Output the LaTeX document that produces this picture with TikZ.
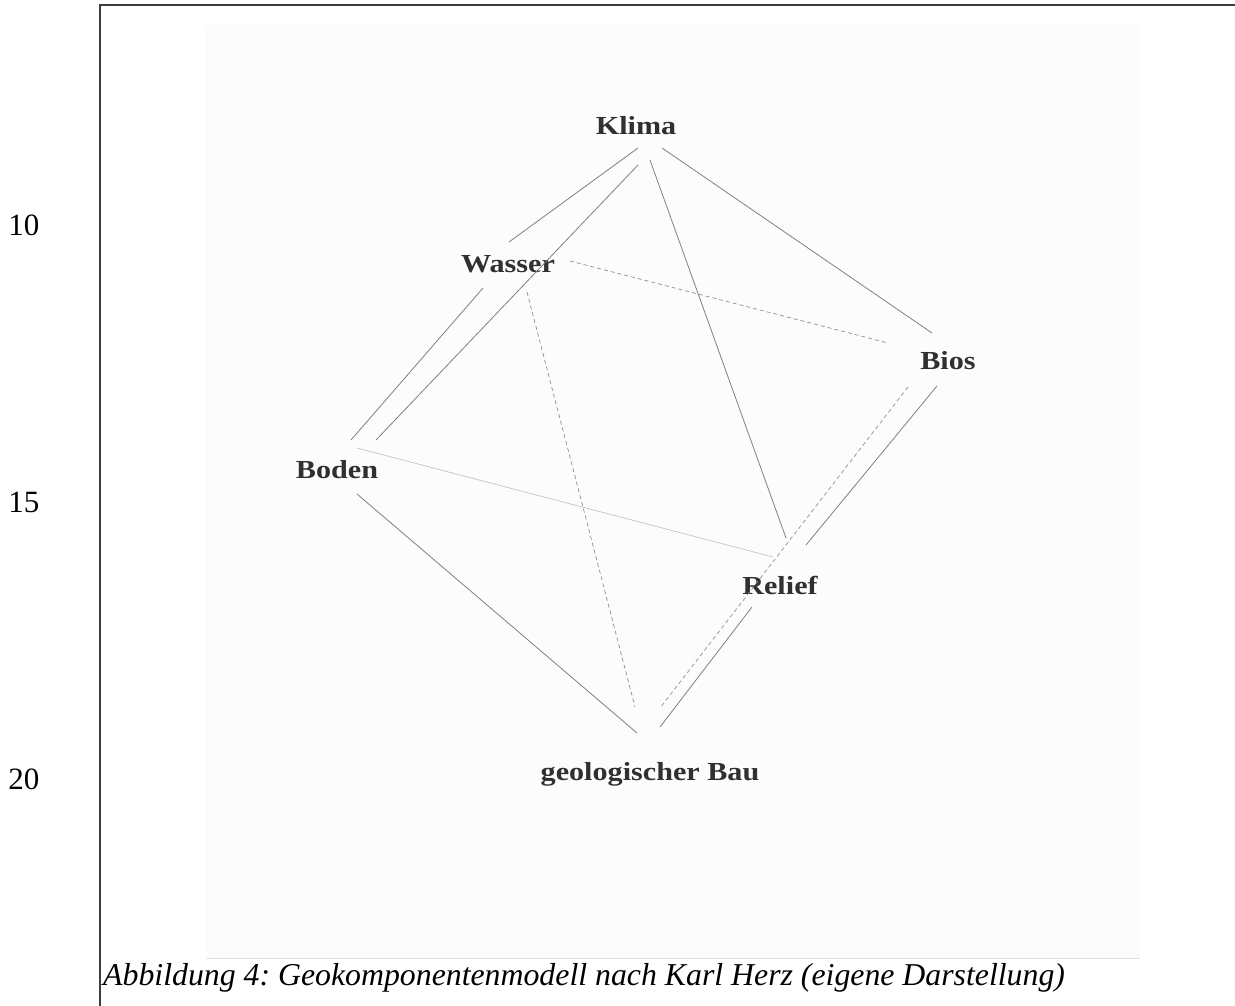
\documentclass[tikz,border=0pt]{standalone}
\usepackage{fontspec}
\setmainfont{Liberation Serif}
\frenchspacing
\definecolor{labelgray}{HTML}{303030}
\definecolor{linegray}{HTML}{808080}
\definecolor{lightline}{HTML}{C4C4C4}
\definecolor{dashgray}{HTML}{909090}
\definecolor{scanbg}{HTML}{FCFCFC}
\definecolor{framegray}{HTML}{3C3C3C}
\newcommand{\lbltext}[1]{\scalebox{1.16}[1]{\fontsize{26}{30}\selectfont\bfseries #1}}
\begin{document}
\begin{tikzpicture}[x=1pt,y=-1pt,
  lbl/.style={text=labelgray, inner sep=0pt, anchor=base},
  conn/.style={draw=linegray, line width=0.8pt},
  lconn/.style={draw=lightline, line width=0.7pt},
  dconn/.style={draw=dashgray, line width=0.7pt, dash pattern=on 4pt off 3pt},
  numlbl/.style={font=\fontsize{31}{34}\selectfont, inner sep=0pt, anchor=base},
  caplbl/.style={font=\fontsize{31.8}{34}\selectfont\itshape, inner sep=0pt, anchor=base west}
]
\useasboundingbox (0,0) rectangle (1235,1006);
% scanned page background
\fill[scanbg] (206,25) rectangle (1140,958);
\draw[draw=black!12, line width=0.6pt] (206,958) -- (1140,958);
% frame
\draw[framegray, line width=1.5pt] (100,1006) -- (100,5) -- (1235,5);

% line numbers
\node[numlbl] (n10) at (24,235) {10};
\node[numlbl] (n15) at (24,512) {15};
\node[numlbl] (n20) at (24,789) {20};

% labels
\node[lbl] (klima) at (636,135) {\lbltext{Klima}};
\node[lbl] (wasser) at (508,272) {\lbltext{Wasser}};
\node[lbl] (bios) at (948,369) {\lbltext{Bios}};
\node[lbl] (boden) at (337,478) {\lbltext{Boden}};
\node[lbl] (relief) at (780,594) {\lbltext{Relief}};
\node[lbl] (geo) at (650,780) {\lbltext{geologischer Bau}};

% connector end points
\coordinate (kw1) at (638,148);  \coordinate (kw2) at (509,242);
\coordinate (kb1) at (638,165);  \coordinate (kb2) at (376,440);
\coordinate (wb1) at (483,288);  \coordinate (wb2) at (351,440);
\coordinate (kr1) at (650,160);  \coordinate (kr2) at (786,538);
\coordinate (kbi1) at (662,148); \coordinate (kbi2) at (932,333);
\coordinate (wbi1) at (570,261); \coordinate (wbi2) at (888,343);
\coordinate (wg1) at (527,292);  \coordinate (wg2) at (635,707);
\coordinate (br1) at (357,448);  \coordinate (br2) at (773,557);
\coordinate (bg1) at (357,494);  \coordinate (bg2) at (637,733);
\coordinate (big1) at (908,387); \coordinate (big2) at (660,708);
\coordinate (bir1) at (937,386); \coordinate (bir2) at (806,545);
\coordinate (rg1) at (752,607);  \coordinate (rg2) at (660,727);

% connectors
\draw[conn] (kw1) -- (kw2);
\draw[conn] (kb1) -- (kb2);
\draw[conn] (wb1) -- (wb2);
\draw[conn] (kr1) -- (kr2);
\draw[conn] (kbi1) -- (kbi2);
\draw[dconn] (wbi1) -- (wbi2);
\draw[dconn] (wg1) -- (wg2);
\draw[lconn] (br1) -- (br2);
\draw[conn] (bg1) -- (bg2);
\draw[dconn] (big1) -- (big2);
\draw[conn] (bir1) -- (bir2);
\draw[conn] (rg1) -- (rg2);

% caption
\node[caplbl] (cap) at (103,985) {Abbildung 4: Geokomponentenmodell nach Karl Herz (eigene Darstellung)};
\end{tikzpicture}
\end{document}
